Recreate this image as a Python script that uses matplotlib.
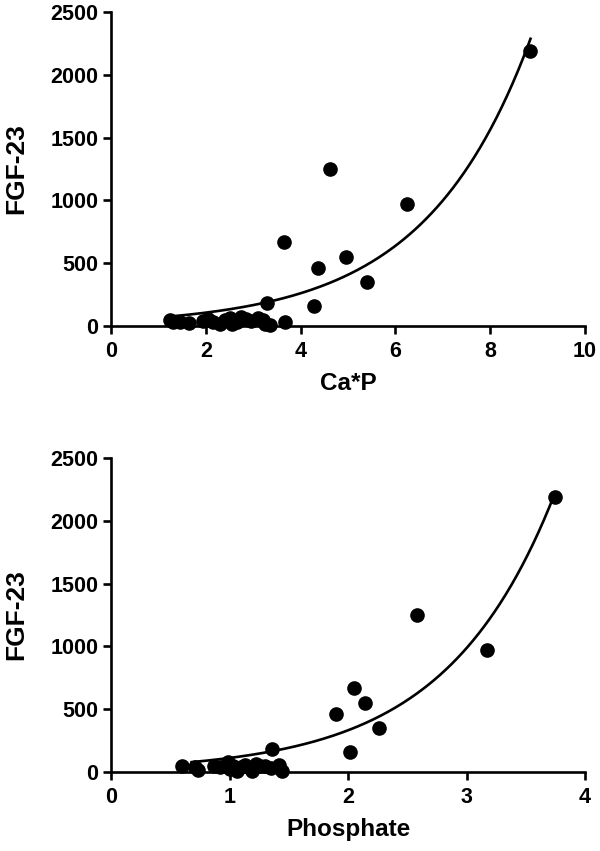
import numpy as np
import matplotlib
matplotlib.use("Agg")
import matplotlib.pyplot as plt

plt.rcParams['font.family'] = ['Liberation Sans', 'DejaVu Sans']
plt.rcParams['font.weight'] = 'bold'

# Ca*P vs FGF-23
caP = [1.25, 1.30, 1.45, 1.65, 1.95, 2.05, 2.15, 2.30, 2.40, 2.50, 2.55, 2.65,
       2.75, 2.85, 2.95, 3.10, 3.20, 3.25, 3.35,
       3.30, 3.68, 3.66, 4.28, 4.37, 4.63, 4.95, 5.41, 6.25, 8.83]
fgfTop = [45, 30, 35, 22, 40, 55, 30, 20, 50, 60, 15, 35,
          70, 55, 40, 60, 45, 20, 10,
          180, 30, 670, 160, 460, 1250, 550, 350, 970, 2190]

# Phosphate vs FGF-23
phos = [0.60, 0.71, 0.73, 0.87, 0.92, 0.99, 1.00, 1.03, 1.06, 1.10, 1.13, 1.19,
        1.22, 1.26, 1.30, 1.35, 1.42, 1.44,
        1.36, 1.90, 2.02, 2.05, 2.14, 2.26, 2.58, 3.17, 3.75]
fgfBottom = [45, 40, 20, 45, 40, 80, 25, 50, 12, 40, 55, 12,
             60, 45, 50, 30, 55, 12,
             180, 460, 160, 670, 550, 350, 1250, 970, 2190]

# exponential fit y = a * exp(b * x)
fitTop = (43.5, 0.4477, 1.29, 8.85)
fitBottom = (37.7, 1.088, 0.68, 3.73)

panels = [
    (caP, fgfTop, fitTop, "Ca*P", 10, [0, 2, 4, 6, 8, 10], [0.6169, 0.3690]),
    (phos, fgfBottom, fitBottom, "Phosphate", 4, [0, 1, 2, 3, 4], [0.0928, 0.3690]),
]

fig = plt.figure(figsize=(6, 8.51), dpi=100)

for xs, ys, fit, xlabel, xmax, xticks, (bottom, height) in panels:
    ax = fig.add_axes([0.185, bottom, 0.79, height])
    a, b, x0, x1 = fit
    xx = np.linspace(x0, x1, 200)
    ax.plot(xx, a * np.exp(b * xx), color='black', lw=1.9, zorder=2)
    ax.plot(xs, ys, 'o', color='black', ms=9.5, zorder=3, clip_on=False)

    ax.set_xlim(0, xmax)
    ax.set_ylim(0, 2500)
    ax.set_xticks(xticks)
    ax.set_yticks([0, 500, 1000, 1500, 2000, 2500])
    for s in ['top', 'right']:
        ax.spines[s].set_visible(False)
    for s in ['left', 'bottom']:
        ax.spines[s].set_linewidth(1.9)
    ax.tick_params(width=1.9, length=6, labelsize=15.5, pad=3)
    ax.tick_params(axis='x', pad=5)
    for lab in ax.get_xticklabels() + ax.get_yticklabels():
        lab.set_fontweight('bold')
    ax.set_xlabel(xlabel, fontsize=17.5, fontweight='bold', labelpad=7)
    ax.set_ylabel("FGF-23", fontsize=19, fontweight='bold', labelpad=16)

fig.savefig("out.png", dpi=100)
